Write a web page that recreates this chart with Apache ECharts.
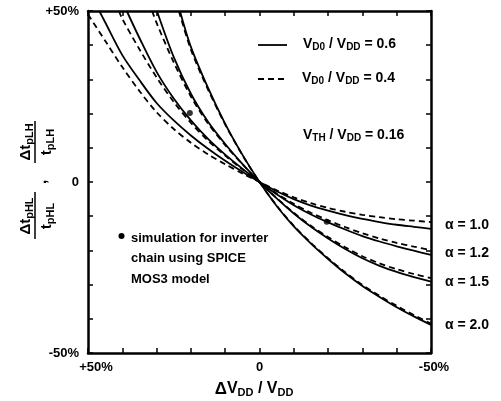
<!DOCTYPE html>
<html><head><meta charset="utf-8">
<script src="https://cdn.jsdelivr.net/npm/echarts@6/dist/echarts.min.js"></script>
<style>html,body{margin:0;padding:0;background:#fff}#c{width:501px;height:401px}</style>
</head><body><div id="c"></div>
<script>
// x grid: ΔVDD/VDD in %, (+50% at left)
const X = [50,45,40,35,30,25,20,15,10,5,0,-5,-10,-15,-20,-25,-30,-35,-40,-45,-50];
// Δt/t in % ; null = off the chart (above +50%)
const a10s = [null,46.7,37.1,29.8,23.1,18.0,13.6,9.7,6.2,3.0,0,-2.7,-5.0,-6.9,-8.4,-9.7,-10.8,-11.7,-12.5,-13.1,-13.7];
const a10d = [49,41.3,33.6,26.6,20.4,15.5,11.5,8.1,5.2,2.5,0,-2.4,-4.5,-6.2,-7.6,-8.7,-9.6,-10.3,-10.9,-11.3,-11.7];
const a12s = [null,null,null,42.1,32.2,24.4,18.0,12.6,8.0,3.9,0,-3.6,-6.8,-9.5,-11.8,-13.9,-15.8,-17.4,-18.8,-20.1,-21.3];
const a12d = [null,null,47.7,38.8,30.6,23.4,17.3,12.1,7.7,3.7,0,-3.4,-6.4,-9.0,-11.2,-13.2,-15.0,-16.5,-17.8,-18.9,-19.9];
const a15s = [null,null,null,null,null,36.5,25.8,17.6,11.1,5.3,0,-4.8,-9.2,-13.1,-16.5,-19.6,-22.3,-24.5,-26.3,-27.8,-29.1];
const a15d = [null,null,null,null,46.5,35.0,25.0,17.1,10.8,5.2,0,-4.7,-9.0,-12.8,-16.1,-19.1,-21.7,-23.8,-25.5,-26.9,-28.1];
const a20s = [null,null,null,null,null,null,39.5,27.5,17.0,8.0,0,-7.0,-13.0,-18.0,-22.5,-26.7,-30.4,-33.6,-36.6,-39.3,-41.8];
const a20d = [null,null,null,null,null,null,38.7,27.0,16.8,7.9,0,-6.9,-12.8,-17.8,-22.3,-26.4,-30.1,-33.3,-36.2,-38.9,-41.4];
// x where each curve leaves the top edge (+50%)
const exitX = [46.7, null, 38.7, 41.0, 29.9, 31.3, 23.2, 23.5];
// SPICE simulation points
const simX = [20.3, -19.6];
const simY = [20.2, -11.6];
const yTickLabels = {'50':'+50%','0':'0','-50':'-50%'};
const xTickLabels = {'50':'+50%','0':'0','-50':'-50%'};

const curves = [a10s,a10d,a12s,a12d,a15s,a15d,a20s,a20d];
function build(ys, ex){
  const pts = [];
  if (ex != null) pts.push([ex, 50]);
  X.forEach((x,i)=>{ if (ys[i] != null) pts.push([x, ys[i]]); });
  return pts;
}
const FONT = "'Liberation Sans', Arial, Helvetica, sans-serif";
const chart = echarts.init(document.getElementById('c'), null, {renderer:'canvas'});
const axLine = {show:true, onZero:false, lineStyle:{color:'#000', width:2.5}};
const axTick = {show:true, inside:true, length:5, lineStyle:{color:'#000', width:1.5}};
const series = curves.map((ys,i)=>({
  type:'line', data: build(ys, exitX[i]), symbol:'none', smooth:0.3, clip:true,
  lineStyle:{color:'#000', width:1.8, type: i%2===0 ? 'solid' : [6,4]},
  silent:true, z:3
}));
series.push({type:'scatter', data: simX.map((x,i)=>[x, simY[i]]), symbolSize:6,
  itemStyle:{color:'#000'}, z:4});

const rich = (base, sub) => ({
  b:{fontFamily:FONT, fontWeight:'bold', fontSize:base, color:'#000'},
  s:{fontFamily:FONT, fontWeight:'bold', fontSize:sub, color:'#000', padding:[Math.round(sub*0.7),0,0,0]},
  g:{fontFamily:FONT, fontWeight:'bold', fontSize:base+1, color:'#000'}
});
function txt(x, y, text, base, sub, align){
  return {type:'text', x:x, y:y, style:{text:text, rich:rich(base,sub), align:align||'left', verticalAlign:'middle',
    font:'bold '+base+'px '+FONT, fill:'#000'}};
}

chart.setOption({
  animation:false,
  grid:{left:88, top:11, right:70, bottom:48},
  xAxis:[
    {type:'value', min:-50, max:50, interval:10, inverse:true, position:'bottom',
     axisLine:axLine, axisTick:axTick, splitLine:{show:false},
     axisLabel:{show:true, margin:8, fontFamily:FONT, fontWeight:'bold', fontSize:13, color:'#000',
       formatter:v=>{ const t = xTickLabels[String(v)]; if(!t) return ''; if(v===50) return '{l|'+t+'}'; if(v===-50) return '{r|'+t+'}'; return t; },
       rich:{l:{fontFamily:FONT, fontWeight:'bold', fontSize:13, padding:[0,0,0,16]},
             r:{fontFamily:FONT, fontWeight:'bold', fontSize:13, padding:[0,0,0,6]}}}},
    {type:'value', min:-50, max:50, interval:10, inverse:true, position:'top',
     axisLine:axLine, axisTick:axTick, splitLine:{show:false}, axisLabel:{show:false}}
  ],
  yAxis:[
    {type:'value', min:-50, max:50, interval:10, position:'left',
     axisLine:axLine, axisTick:axTick, splitLine:{show:false},
     axisLabel:{show:true, margin:9, fontFamily:FONT, fontWeight:'bold', fontSize:13, color:'#000',
       formatter:v=>yTickLabels[String(v)]||''}},
    {type:'value', min:-50, max:50, interval:10, position:'right',
     axisLine:axLine, axisTick:axTick, splitLine:{show:false}, axisLabel:{show:false}}
  ],
  series: series,
  graphic:[
    // legend samples
    {type:'line', shape:{x1:258,y1:45,x2:287,y2:45}, style:{stroke:'#000', lineWidth:1.8}},
    {type:'line', shape:{x1:258,y1:79,x2:288,y2:79}, style:{stroke:'#000', lineWidth:1.8, lineDash:[6,4]}},
    txt(303, 44, '{b|V}{s|D0}{b| / V}{s|DD}{b| = 0.6}', 14, 10),
    txt(302, 78, '{b|V}{s|D0}{b| / V}{s|DD}{b| = 0.4}', 14, 10),
    txt(303, 135, '{b|V}{s|TH}{b| / V}{s|DD}{b| = 0.16}', 14, 10),
    // alpha labels
    txt(445, 225, '{b|α = 1.0}', 14, 10),
    txt(445, 253, '{b|α = 1.2}', 14, 10),
    txt(445, 282, '{b|α = 1.5}', 14, 10),
    txt(445, 325, '{b|α = 2.0}', 14, 10),
    // simulation note
    {type:'circle', shape:{cx:121.5, cy:236, r:3}, style:{fill:'#000'}},
    txt(131, 238, '{b|simulation for inverter}', 13, 9),
    txt(131, 258, '{b|chain using SPICE}', 13, 9),
    txt(131, 279, '{b|MOS3 model}', 13, 9),
    // x axis title
    txt(254, 389, '{g|Δ}{b|V}{s|DD}{b| / V}{s|DD}', 16, 11, 'center'),
    // y axis title (rotated)
    {type:'group', x:36, y:185, rotation:Math.PI/2, children:[
      txt(-31, -10, '{b|Δt}{s|pHL}', 15, 11, 'center'),
      {type:'line', shape:{x1:-54,y1:-1,x2:-7,y2:-1}, style:{stroke:'#000', lineWidth:1.5}},
      txt(-31, 11, '{b|t}{s|pHL}', 15, 11, 'center'),
      txt(3, 6, '{b|,}', 15, 11, 'center'),
      txt(43, -10, '{b|Δt}{s|pLH}', 15, 11, 'center'),
      {type:'line', shape:{x1:22,y1:-1,x2:64,y2:-1}, style:{stroke:'#000', lineWidth:1.5}},
      txt(43, 11, '{b|t}{s|pLH}', 15, 11, 'center')
    ]}
  ]
});
</script></body></html>
